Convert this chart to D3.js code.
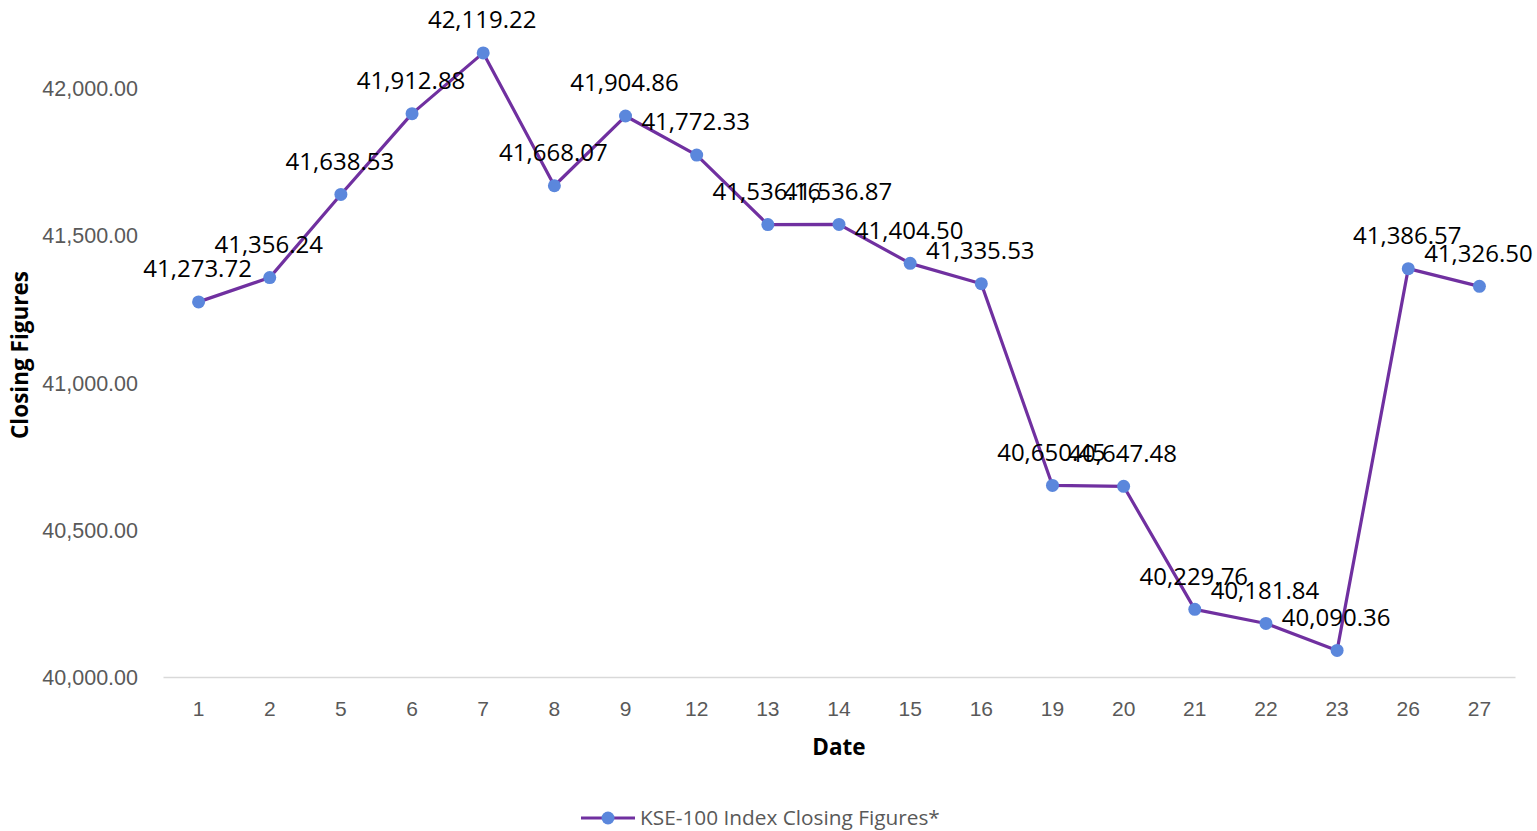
<!DOCTYPE html>
<html>
<head>
<meta charset="utf-8">
<script src="https://cdn.jsdelivr.net/npm/d3@7"></script>
<style>
  html, body { margin: 0; padding: 0; background: #ffffff; }
  svg { display: block; font-family: "Open Sans", "Liberation Sans", sans-serif; }
</style>
</head>
<body>
<svg id="chart" width="1537" height="831"></svg>
<script>
// Trading days of the month (x categories)
const dates = ["1", "2", "5", "6", "7", "8", "9", "12", "13", "14", "15", "16", "19", "20", "21", "22", "23", "26", "27"];
// KSE-100 closing figures for each trading day
const closing = [41273.72, 41356.24, 41638.53, 41912.88, 42119.22, 41668.07, 41904.86, 41772.33, 41536.16, 41536.87,
                 41404.50, 41335.53, 40650.45, 40647.48, 40229.76, 40181.84, 40090.36, 41386.57, 41326.50];
// Y-axis tick values
const yTicks = [40000, 40500, 41000, 41500, 42000];

const seriesName = "KSE-100 Index Closing Figures*";
const lineColor = "#7030A0";
const markerColor = "#5B87DC";
const axisTextColor = "#595959";

const svg = d3.select("#chart");
const margin = { left: 163, right: 22, top: 29, bottom: 154 };
const width = 1537, height = 831;

const x = d3.scaleBand()
  .domain(dates)
  .range([margin.left, width - margin.right]);

const y = d3.scaleLinear()
  .domain([40000, 42200])
  .range([677, 677 - 2200 * (589 / 2000)]);

const fmt = d3.format(",.2f");

// Y axis (labels only, no gridlines)
const yAxis = d3.axisLeft(y).tickValues(yTicks).tickFormat(fmt).tickSize(0).tickPadding(0);
const gy = svg.append("g").attr("transform", `translate(${138},0)`).call(yAxis);
gy.select(".domain").remove();
gy.selectAll("text")
  .attr("fill", axisTextColor)
  .style("font-size", "21.5px")
  .attr("dy", "0.35em");

// X axis with baseline
const xAxis = d3.axisBottom(x).tickSize(0).tickPadding(0);
const gx = svg.append("g").attr("transform", `translate(0,${y(40000)})`).call(xAxis);
gx.select(".domain").attr("stroke", "#d9d9d9").attr("stroke-width", 1.5);
gx.selectAll("text")
  .attr("fill", axisTextColor)
  .style("font-size", "21px")
  .attr("y", 32)
  .attr("dy", "0.35em");

// Axis titles
svg.append("text")
  .attr("x", x.range()[0] + (x.range()[1] - x.range()[0]) / 2)
  .attr("y", 747)
  .attr("dy", "0.35em")
  .attr("text-anchor", "middle")
  .style("font-size", "22.5px")
  .style("font-weight", "bold")
  .attr("fill", "#000")
  .text("Date");

svg.append("text")
  .attr("transform", `translate(20,${355}) rotate(-90)`)
  .attr("dy", "0.35em")
  .attr("text-anchor", "middle")
  .style("font-size", "22.5px")
  .style("font-weight", "bold")
  .attr("fill", "#000")
  .text("Closing Figures");

const cx = d => x(d) + x.bandwidth() / 2;

// Series line
const line = d3.line()
  .x((d, i) => cx(dates[i]))
  .y(d => y(d));

svg.append("path")
  .datum(closing)
  .attr("fill", "none")
  .attr("stroke", lineColor)
  .attr("stroke-width", 3.2)
  .attr("stroke-linejoin", "round")
  .attr("d", line);

// Markers
svg.append("g").selectAll("circle")
  .data(closing)
  .join("circle")
  .attr("cx", (d, i) => cx(dates[i]))
  .attr("cy", d => y(d))
  .attr("r", 6.5)
  .attr("fill", markerColor);

// Data labels above each point
svg.append("g").selectAll("text")
  .data(closing)
  .join("text")
  .attr("x", (d, i) => cx(dates[i]) - 1)
  .attr("y", d => y(d) - 33)
  .attr("dy", "0.35em")
  .attr("text-anchor", "middle")
  .style("font-size", "24px")
  .attr("fill", "#000")
  .text(d => fmt(d));

// Legend
const legend = svg.append("g").attr("transform", "translate(581,818)");
legend.append("line")
  .attr("x1", 0).attr("x2", 54).attr("y1", 0).attr("y2", 0)
  .attr("stroke", lineColor).attr("stroke-width", 3.2);
legend.append("circle")
  .attr("cx", 27).attr("cy", 0).attr("r", 6.5).attr("fill", markerColor);
legend.append("text")
  .attr("x", 59).attr("y", 0).attr("dy", "0.35em")
  .style("font-size", "20.8px")
  .attr("fill", axisTextColor)
  .text(seriesName);
</script>
</body>
</html>
